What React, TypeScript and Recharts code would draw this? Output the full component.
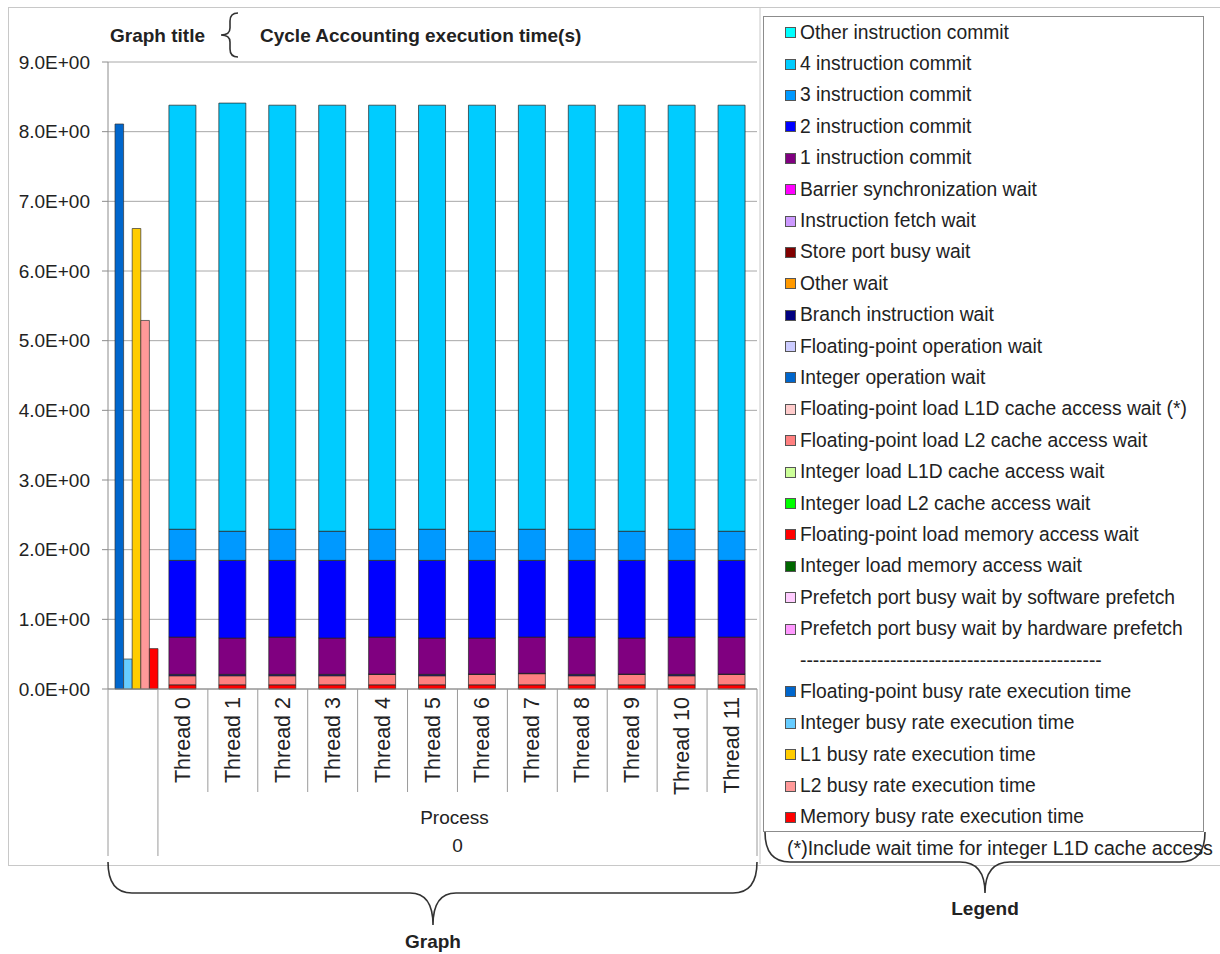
import React from 'react';
import { BarChart, Bar, XAxis, YAxis, CartesianGrid } from 'recharts';

// categories
const threadLabels = [
  'Thread 0', 'Thread 1', 'Thread 2', 'Thread 3', 'Thread 4', 'Thread 5',
  'Thread 6', 'Thread 7', 'Thread 8', 'Thread 9', 'Thread 10', 'Thread 11',
];
const yTicks = [0, 1, 2, 3, 4, 5, 6, 7, 8, 9];

// busy rate bars, drawn only in the first (unnamed) category
const busyRateLabels = [
  'Floating-point busy rate execution time',
  'Integer busy rate execution time',
  'L1 busy rate execution time',
  'L2 busy rate execution time',
  'Memory busy rate execution time',
];
const busyRateValues = [8.11, 0.43, 6.61, 5.29, 0.58];

// cycle accounting, one value per thread
const zeros = [0, 0, 0, 0, 0, 0, 0, 0, 0, 0, 0, 0];
const fpLoadMemoryWait = [0.06, 0.06, 0.06, 0.06, 0.06, 0.06, 0.06, 0.06, 0.06, 0.06, 0.06, 0.06];
const fpLoadL2Wait = [0.13, 0.13, 0.13, 0.13, 0.15, 0.13, 0.15, 0.16, 0.13, 0.15, 0.13, 0.15];
const branchWait = [0.02, 0.02, 0.02, 0.02, 0.005, 0.02, 0.005, 0.005, 0.02, 0.005, 0.02, 0.005];
const commit1 = [0.535, 0.521, 0.535, 0.521, 0.53, 0.521, 0.516, 0.52, 0.535, 0.516, 0.535, 0.53];
const commit2 = [1.101, 1.115, 1.101, 1.115, 1.101, 1.115, 1.115, 1.101, 1.101, 1.115, 1.101, 1.101];
const commit3 = [0.447, 0.418, 0.447, 0.418, 0.447, 0.447, 0.418, 0.447, 0.447, 0.418, 0.447, 0.418];
const commit4 = [6.087, 6.146, 6.087, 6.116, 6.087, 6.087, 6.116, 6.087, 6.087, 6.116, 6.087, 6.116];

// stack order, bottom to top
const stackSeries = [
  { key: 'pfHw', label: 'Prefetch port busy wait by hardware prefetch', values: zeros },
  { key: 'pfSw', label: 'Prefetch port busy wait by software prefetch', values: zeros },
  { key: 'intMem', label: 'Integer load memory access wait', values: zeros },
  { key: 'fpMem', label: 'Floating-point load memory access wait', values: fpLoadMemoryWait },
  { key: 'intL2', label: 'Integer load L2 cache access wait', values: zeros },
  { key: 'intL1', label: 'Integer load L1D cache access wait', values: zeros },
  { key: 'fpL2', label: 'Floating-point load L2 cache access wait', values: fpLoadL2Wait },
  { key: 'fpL1', label: 'Floating-point load L1D cache access wait (*)', values: zeros },
  { key: 'intOp', label: 'Integer operation wait', values: zeros },
  { key: 'fpOp', label: 'Floating-point operation wait', values: zeros },
  { key: 'branch', label: 'Branch instruction wait', values: branchWait },
  { key: 'other', label: 'Other wait', values: zeros },
  { key: 'store', label: 'Store port busy wait', values: zeros },
  { key: 'fetch', label: 'Instruction fetch wait', values: zeros },
  { key: 'barrier', label: 'Barrier synchronization wait', values: zeros },
  { key: 'c1', label: '1 instruction commit', values: commit1 },
  { key: 'c2', label: '2 instruction commit', values: commit2 },
  { key: 'c3', label: '3 instruction commit', values: commit3 },
  { key: 'c4', label: '4 instruction commit', values: commit4 },
  { key: 'cOther', label: 'Other instruction commit', values: zeros },
];

const stackColors: Record<string, string> = {
  pfHw: '#ff99ff', pfSw: '#ffccff', intMem: '#006600', fpMem: '#ff0000',
  intL2: '#00ff00', intL1: '#ccff99', fpL2: '#ff8080', fpL1: '#ffcccc',
  intOp: '#0066cc', fpOp: '#ccccff', branch: '#000080', other: '#ff9900',
  store: '#800000', fetch: '#cc99ff', barrier: '#ff00ff', c1: '#800080',
  c2: '#0000ff', c3: '#0099ff', c4: '#00ccff', cOther: '#00ffff',
};
const busyColors = ['#0066cc', '#66ccff', '#ffcc00', '#ff9999', '#ff0000'];

const rows = [
  Object.fromEntries([['name', ''], ...busyRateValues.map((v, i) => [`busy${i}`, v])]),
  ...threadLabels.map((t, ti) =>
    Object.fromEntries([['name', t], ...stackSeries.map((s) => [s.key, s.values[ti]])])
  ),
];

// layout
const FONT = '"Liberation Sans", Arial, sans-serif';
const INK = '#222';
const CHART_W = 762;
const CHART_H = 870;
const PLOT_L = 108;
const PLOT_R = 757;
const PLOT_T = 62;
const PLOT_B = 689;
const BAND = (PLOT_R - PLOT_L) / (threadLabels.length + 1);

const CategoryTick = (props: any) => {
  const { x, payload } = props;
  const ti = threadLabels.indexOf(payload.value);
  if (ti < 0) return null;
  const half = BAND / 2;
  const last = ti === threadLabels.length - 1;
  const stroke = '#9a9a9a';
  return (
    <g>
      {ti === 0 && (
        <>
          <line x1={x - half - BAND} x2={x - half - BAND} y1={PLOT_B} y2={856} stroke={stroke} />
          <line x1={x - half} x2={x - half} y1={PLOT_B} y2={856} stroke={stroke} />
          <text x={x - half + (threadLabels.length * BAND) / 2 - 3} y={817} textAnchor="middle"
            dominantBaseline="central" fontFamily={FONT} fontSize={19} fill={INK}>Process</text>
          <text x={x - half + (threadLabels.length * BAND) / 2} y={845} textAnchor="middle"
            dominantBaseline="central" fontFamily={FONT} fontSize={19} fill={INK}>0</text>
        </>
      )}
      <line x1={x + half} x2={x + half} y1={PLOT_B} y2={last ? 856 : 792} stroke={stroke} />
      <text transform={`translate(${x},697) rotate(-90)`} textAnchor="end" dominantBaseline="central"
        fontFamily={FONT} fontSize={21.5} fill={INK}>{payload.value}</text>
    </g>
  );
};

const Swatch = ({ color }: { color: string }) => (
  <span style={{ display: 'inline-block', width: 9, height: 9, background: color,
    border: '1px solid #555', marginRight: 4, flex: 'none' }} />
);

const LegendRow = ({ color, label }: { color: string; label: string }) => (
  <div style={{ height: 31.4, display: 'flex', alignItems: 'center', paddingLeft: 21 }}>
    <Swatch color={color} />
    <span style={{ whiteSpace: 'nowrap' }}>{label}</span>
  </div>
);

const ChartLegend = () => (
  <div style={{ position: 'absolute', left: 763, top: 16, width: 441, height: 816,
    border: '1px solid #8c8c8c', boxSizing: 'border-box', background: '#fff',
    fontFamily: FONT, fontSize: 19.3, color: INK }}>
    {[...stackSeries].reverse().map((s) => (
      <LegendRow key={s.key} color={stackColors[s.key]} label={s.label} />
    ))}
    <div style={{ height: 31.4, display: 'flex', alignItems: 'center', paddingLeft: 36,
      whiteSpace: 'nowrap', overflow: 'hidden' }}>
      {'-'.repeat(47)}
    </div>
    {busyRateLabels.map((l, i) => (
      <LegendRow key={l} color={busyColors[i]} label={l} />
    ))}
  </div>
);

const Braces = () => (
  <svg width={1220} height={954} style={{ position: 'absolute', left: 0, top: 0, pointerEvents: 'none' }}>
    <line x1={760} x2={760} y1={7} y2={864} stroke="#c8c8c8" />
    <g fill="none" stroke="#333" strokeWidth={1.6}>
      <path d="M238 13 Q230 13 230 21 L230 28 Q230 35 221 35 Q230 35 230 42 L230 49 Q230 57 238 57" />
      <path d="M108 862 Q108 893 132 893 L410 893 Q433 893 433 925 Q433 893 456 893 L733 893 Q757 893 757 862" />
      <path d="M765 832 Q765 862 790 862 L960 862 Q985 862 985 893 Q985 862 1010 862 L1180 862 Q1205 862 1205 832" />
    </g>
  </svg>
);

const label = (text: string, left: number, top: number, bold = true, center = false, size = 19) => (
  <div style={{ position: 'absolute', left, top, lineHeight: '22px', fontFamily: FONT,
    fontSize: size, fontWeight: bold ? 700 : 400, color: INK, whiteSpace: 'nowrap',
    transform: center ? 'translateX(-50%)' : undefined }}>{text}</div>
);

export default function App() {
  return (
    <div style={{ position: 'absolute', left: 0, top: 0, width: 1220, height: 954, background: '#fff' }}>
      <div style={{ position: 'absolute', left: 8, top: 7, width: 1212, height: 857,
        borderLeft: '1px solid #c8c8c8', borderTop: '1px solid #c8c8c8', borderBottom: '1px solid #c8c8c8' }} />
      <div style={{ position: 'absolute', left: 0, top: 0 }}>
        <BarChart width={CHART_W} height={CHART_H} data={rows} barGap={0}
          margin={{ top: PLOT_T, right: CHART_W - PLOT_R, left: 8, bottom: 0 }}>
          <CartesianGrid vertical={false} stroke="#a8a8a8" />
          <XAxis xAxisId="busy" dataKey="name" hide height={0} padding={{ left: 4, right: 0 }} />
          <XAxis xAxisId="main" dataKey="name" interval={0} height={CHART_H - PLOT_B}
            axisLine={{ stroke: '#8c8c8c' }} tickLine={false} tick={<CategoryTick />} />
          <YAxis domain={[0, 9]} ticks={yTicks} width={PLOT_L - 8} interval={0}
            tickFormatter={(v: number) => `${v.toFixed(1)}E+00`}
            tick={{ fontFamily: FONT, fontSize: 19, fill: INK }}
            tickSize={6} tickMargin={12}
            axisLine={{ stroke: '#8c8c8c' }} tickLine={{ stroke: '#8c8c8c' }} />
          <YAxis yAxisId="right" orientation="right" domain={[0, 9]} width={0}
            tick={false} tickLine={false} axisLine={{ stroke: '#8c8c8c' }} />
          {busyRateLabels.map((l, i) => (
            <Bar key={l} xAxisId="busy" dataKey={`busy${i}`} name={l} barSize={8.6}
              fill={busyColors[i]} stroke="#333" strokeWidth={0.7} isAnimationActive={false} />
          ))}
          {stackSeries.map((s) => (
            <Bar key={s.key} xAxisId="main" dataKey={s.key} name={s.label} stackId="t"
              barSize={27} fill={stackColors[s.key]} stroke="#222" strokeWidth={0.7}
              isAnimationActive={false} />
          ))}
        </BarChart>
      </div>
      <ChartLegend />
      <Braces />
      {label('Graph title', 110, 25)}
      {label('Cycle Accounting execution time(s)', 260, 25)}
      {label('Graph', 433, 931, true, true)}
      {label('Legend', 985, 898, true, true)}
      {label('(*)Include wait time for integer L1D cache access', 787, 837, false, false, 19.6)}
    </div>
  );
}
